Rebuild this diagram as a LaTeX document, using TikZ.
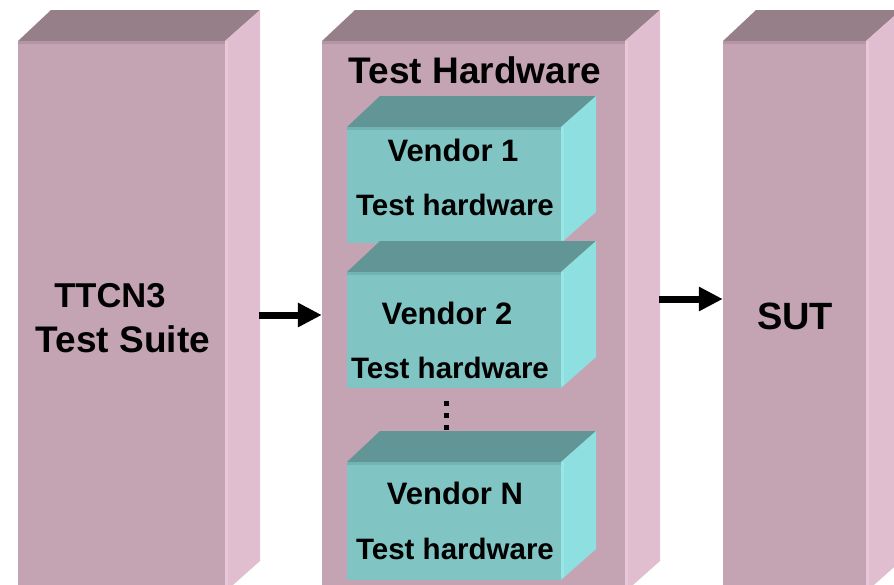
\documentclass[tikz,border=0pt]{standalone}
\usepackage{fontspec}
\setmainfont{Liberation Sans}
\usetikzlibrary{arrows.meta,fit}
\definecolor{pinkfront}{HTML}{C4A3B3}
\definecolor{pinktop}{HTML}{967F89}
\definecolor{pinkside}{HTML}{E0BDCF}
\definecolor{pinkedge}{HTML}{B495A5}
\definecolor{pinksideedge}{HTML}{E8C8D8}
\definecolor{tealfront}{HTML}{80C4C4}
\definecolor{tealtop}{HTML}{629696}
\definecolor{tealside}{HTML}{8EE0E0}
\definecolor{tealedge}{HTML}{72B4B4}
\definecolor{tealsideedge}{HTML}{98E6E6}
% #1 name, #2 x1, #3 y1, #4 x2, #5 y2, #6 colour prefix
\newcommand\mycuboid[6]{%
  \fill[#6top] (#2,#3) -- (#4,#3) -- (#4+35,#3-31) -- (#2+33,#3-31) -- cycle;
  \fill[#6side] (#4,#3) -- (#4+35,#3-31) -- (#4+35,#5-31) -- (#4,#5) -- cycle;
  \fill[#6sideedge] (#4,#3) rectangle (#4+3,#5-3);
  \coordinate (#1-nw) at (#2,#3);
  \coordinate (#1-se) at (#4,#5);
  \node[fit=(#1-nw)(#1-se), inner sep=0pt, fill=#6front] (#1) {};
  \fill[#6edge] (#2,#3) rectangle (#4,#3+3);
}
\tikzset{
  bigtext/.style={font=\fontsize{37}{40}\selectfont\bfseries, text=black, inner sep=0pt, align=center},
  vtext/.style={font=\fontsize{31}{33}\selectfont\bfseries, text=black, inner sep=0pt},
  htext/.style={font=\fontsize{29.5}{31}\selectfont\bfseries, text=black, inner sep=0pt},
  arr/.style={line width=7pt, -{Triangle[length=24pt,width=23pt]}},
  dotsq/.style={fill=black, inner sep=0pt, minimum size=5pt, rectangle}
}
\begin{document}
\begin{tikzpicture}[x=1pt,y=-1pt]
\useasboundingbox (0,0) rectangle (894,584);
\begin{scope}
\clip (0,0) rectangle (894,584);
\mycuboid{left}{18}{41}{225}{592}{pink}
\mycuboid{mid}{322}{41}{625}{592}{pink}
\mycuboid{right}{723}{41}{866}{592}{pink}
\mycuboid{v1}{347}{127}{561}{243}{teal}
\mycuboid{v2}{347}{272}{561}{388}{teal}
\mycuboid{vn}{347}{462}{561}{580}{teal}
\end{scope}
\node[bigtext, font=\fontsize{34.5}{38}\selectfont\bfseries] (ttcn) at (110,296) {TTCN3};
\node[bigtext] (suite) at (123,339) {Test Suite};
\node[bigtext] (th) at (475,70) {Test Hardware};
\node[bigtext, font=\fontsize{38}{40}\selectfont\bfseries] (sut) at (795,316) {SUT};
\node[vtext] (v1a) at (453,150) {Vendor 1};
\node[htext] (v1b) at (455,205) {Test hardware};
\node[vtext] (v2a) at (447,313) {Vendor 2};
\node[htext] (v2b) at (450,368) {Test hardware};
\node[vtext] (vna) at (455,493) {Vendor N};
\node[htext] (vnb) at (455,549) {Test hardware};
\node[dotsq] (d1) at (446,403) {};
\node[dotsq] (d2) at (446,415) {};
\node[dotsq] (d3) at (446,427) {};
\coordinate (a1) at (259,315);
\coordinate (a2) at (659,299);
\draw[arr] (a1) -- (a1 -| mid.west);
\draw[arr] (a2) -- (a2 -| right.west);
\end{tikzpicture}
\end{document}
